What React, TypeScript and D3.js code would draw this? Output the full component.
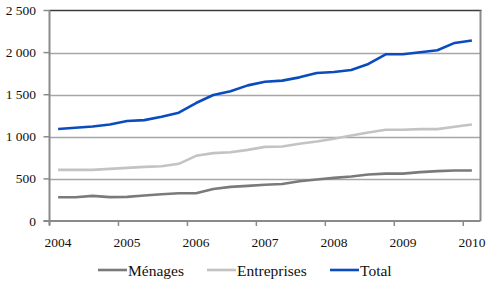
import * as d3 from "d3";

const W = 490;
const H = 284;

// quarterly, 2004 Q1 → 2010 Q1
const quarters = d3.range(25).map((i) => `${2004 + Math.floor(i / 4)}T${(i % 4) + 1}`);
const yearLabels = ["2004", "2005", "2006", "2007", "2008", "2009", "2010"];
const yTicks = [0, 500, 1000, 1500, 2000, 2500];

const menages = [282, 282, 298, 284, 286, 302, 317, 329, 329, 381, 405, 417, 430, 440, 472, 492, 512, 528, 552, 563, 563, 580, 592, 599, 599];
const entreprises = [607, 607, 607, 619, 631, 643, 651, 679, 774, 806, 817, 845, 880, 885, 917, 944, 976, 1016, 1052, 1083, 1083, 1091, 1091, 1119, 1147];
const total = [1092, 1107, 1123, 1147, 1187, 1198, 1238, 1286, 1401, 1496, 1540, 1611, 1653, 1667, 1706, 1758, 1770, 1794, 1865, 1980, 1980, 2004, 2028, 2115, 2143];

const series = [
  { name: "Ménages", values: menages, color: "#7a7a7a" },
  { name: "Entreprises", values: entreprises, color: "#c3c3c3" },
  { name: "Total", values: total, color: "#0a4cbf" },
];

const FONT = "Liberation Serif, DejaVu Serif, serif";

export default function App() {
  const left = 49.5;
  const right = 480.5;
  const top = 10.5;
  const bottom = 221;

  const x = d3.scaleBand<string>().domain(quarters).range([left, right]).paddingInner(0).paddingOuter(0);
  const y = d3.scaleLinear().domain([0, 2500]).range([bottom, top]);
  const cx = (i: number) => (x(quarters[i]) ?? 0) + x.bandwidth() / 2;

  const line = (vals: number[]) =>
    d3.line<number>().x((_, i) => cx(i)).y((d) => y(d))(vals) ?? "";

  const legend = [
    { x: 98, textX: 128 },
    { x: 207, textX: 237 },
    { x: 330, textX: 360 },
  ];

  const txt = { fontFamily: FONT };

  return (
    <svg width={W} height={H} style={{ position: "absolute", left: 0, top: 0, background: "#fff", fontFamily: FONT }}>
      {/* grid */}
      {yTicks.slice(1, -1).map((t) => (
        <line key={t} x1={left} x2={right} y1={Math.round(y(t)) + 0.5} y2={Math.round(y(t)) + 0.5} stroke="#a6a6a6" strokeWidth={1.3} />
      ))}
      {/* frame */}
      <line x1={left} x2={right + 1} y1={top} y2={top} stroke="#3c3c3c" strokeWidth={1.3} />
      <line x1={right} x2={right} y1={top} y2={bottom} stroke="#8a8a8a" strokeWidth={2} />
      <line x1={left} x2={left} y1={top} y2={bottom + 4} stroke="#8a8a8a" strokeWidth={2} />
      <line x1={left - 6} x2={right} y1={bottom} y2={bottom} stroke="#8a8a8a" strokeWidth={2} />

      {/* y axis */}
      {yTicks.map((t) => (
        <g key={t}>
          <line x1={left - 6} x2={left} y1={y(t)} y2={y(t)} stroke="#8a8a8a" strokeWidth={1.5} />
          <text x={36} y={y(t) + 4.5} textAnchor="end" fontSize={13.5} fill="#111" style={txt}>
            {d3.format(",")(t).replace(",", " ")}
          </text>
        </g>
      ))}

      {/* x axis */}
      {yearLabels.map((lab, k) => {
        const i = k * 4;
        const tx = x(quarters[i]) ?? 0;
        return (
          <g key={lab}>
            <line x1={tx} x2={tx} y1={bottom} y2={bottom + 5} stroke="#8a8a8a" strokeWidth={1.5} />
            <text x={cx(i)} y={247} textAnchor="middle" fontSize={13.5} fill="#111" style={txt}>
              {lab}
            </text>
          </g>
        );
      })}

      {/* lines */}
      {series.map((s) => (
        <path key={s.name} d={line(s.values)} fill="none" stroke={s.color} strokeWidth={2.6} strokeLinejoin="round" />
      ))}

      {/* legend */}
      {series.map((s, k) => (
        <g key={s.name}>
          <line x1={legend[k].x} x2={legend[k].x + 29} y1={270} y2={270} stroke={s.color} strokeWidth={2.6} />
          <text x={legend[k].textX} y={275.5} fontSize={15.5} fill="#111" style={txt}>
            {s.name}
          </text>
        </g>
      ))}
    </svg>
  );
}
